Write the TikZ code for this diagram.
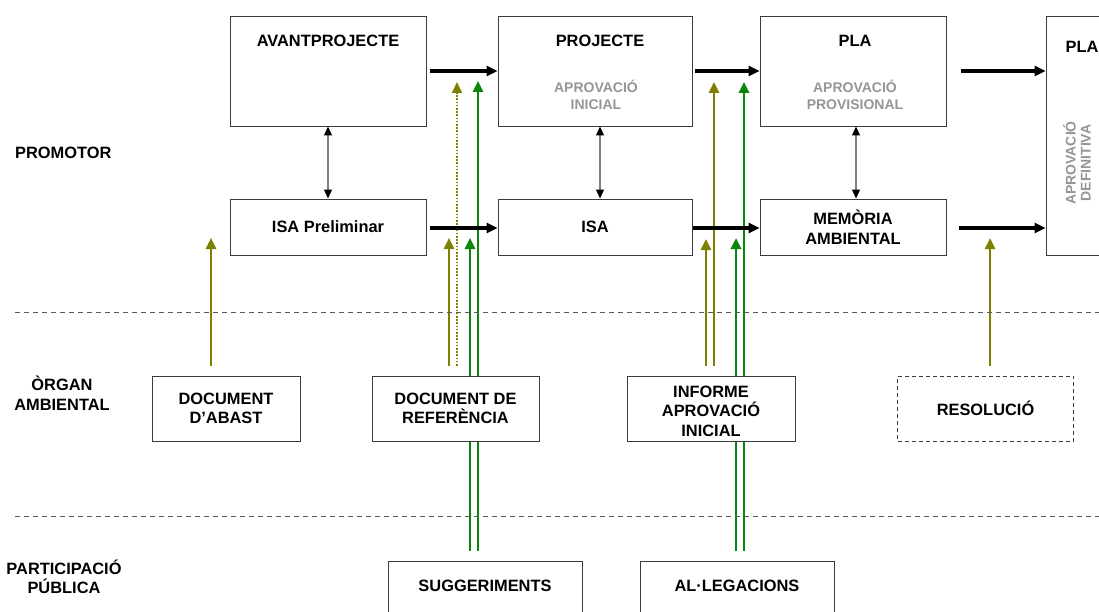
\documentclass[tikz,border=0pt]{standalone}
\usepackage{fontspec}
\setmainfont{Liberation Sans}
\usetikzlibrary{arrows.meta,calc}
\definecolor{olv}{RGB}{128,128,0}
\definecolor{grn}{RGB}{10,135,10}
\definecolor{gtx}{RGB}{150,150,150}
\definecolor{edge}{RGB}{60,60,60}
\pgfdeclarelayer{bg}
\pgfsetlayers{bg,main}
\begin{document}
\begin{tikzpicture}[x=1pt,y=-1pt,
  box/.style={draw=edge,line width=0.9pt,fill=white,rectangle,inner sep=0pt},
  txt/.style={font=\fontsize{16.4}{19.6}\selectfont\bfseries,align=center,inner sep=0pt},
  gtxt/.style={font=\fontsize{14}{17}\selectfont\bfseries,text=gtx,align=center,inner sep=0pt},
  bigarr/.style={line width=3.2pt,-{Triangle[length=11pt,width=10pt]}},
  dblarr/.style={draw=black!50,line width=1.1pt,{Triangle[length=9pt,width=8pt,fill=black,color=black]}-{Triangle[length=9pt,width=8pt,fill=black,color=black]}},
  olvarr/.style={draw=olv,line width=2.5pt,-{Triangle[length=11pt,width=10pt,color=olv,fill=olv]}},
  olvdot/.style={draw=olv,line width=1.8pt,dash pattern=on 1.6pt off 1.6pt,-{Triangle[length=11pt,width=10pt,color=olv,fill=olv]}},
  grnarr/.style={draw=grn,line width=2.5pt,-{Triangle[length=11pt,width=10pt,color=grn,fill=grn]}},
  sepline/.style={draw=black!65,line width=1pt,dash pattern=on 5pt off 4pt}]
\useasboundingbox (0,0) rectangle (1099,612);
\clip (0,0) rectangle (1099,612);

% separators
\coordinate (s1a) at (15,312); \coordinate (s1b) at (1099,312);
\coordinate (s2a) at (15,516); \coordinate (s2b) at (1099,516);
\draw[sepline] (s1a) -- (s1b);
\draw[sepline] (s2a) -- (s2b);

% row labels
\node[txt,anchor=west] (lprom) at (15,153) {PROMOTOR};
\node[txt] (lorg) at (62,393) {ÒRGAN\\AMBIENTAL};
\node[txt] (lpart) at (64,577) {PARTICIPACIÓ\\PÚBLICA};

% promotor boxes
\node[box,minimum width=196pt,minimum height=110pt] (avant) at (328,71) {};
\node[box,minimum width=194pt,minimum height=110pt] (proj) at (595,71) {};
\node[box,minimum width=186pt,minimum height=110pt] (pla) at (853,71) {};
\node[box,minimum width=70pt,minimum height=239pt] (final) at (1081,135.5) {};
\node[box,minimum width=196pt,minimum height=56pt,txt] (isap) at (328,227) {ISA Preliminar};
\node[box,minimum width=194pt,minimum height=56pt,txt] (isa) at (595,227) {ISA};
\node[box,minimum width=186pt,minimum height=56pt,txt] (mem) at (853,227) {MEMÒRIA\\AMBIENTAL};

\node[txt] (avantt) at (328,41) {AVANTPROJECTE};
\node[txt] (projt) at (600,41) {PROJECTE};
\node[gtxt] (projg) at (596,94.5) {APROVACIÓ\\INICIAL};
\node[txt] (plat) at (855,41) {PLA};
\node[gtxt] (plag) at (855,94.5) {APROVACIÓ\\PROVISIONAL};
\node[txt] (finalt) at (1082,47) {PLA};
\node[gtxt,rotate=90,font=\fontsize{14}{15}\selectfont\bfseries] (finalg) at (1077,163) {APROVACIÓ\\DEFINITIVA};

% organ ambiental boxes
\node[box,minimum width=148pt,minimum height=65pt,txt] (abast) at (226,408.5) {DOCUMENT\\D’ABAST};
\node[box,minimum width=167pt,minimum height=65pt,txt] (docref) at (455.5,408.5) {DOCUMENT DE\\REFERÈNCIA};
\node[box,minimum width=168pt,minimum height=65pt,txt] (informe) at (711,408.5) {};
\node[txt] (informet) at (711,411) {INFORME\\APROVACIÓ\\INICIAL};
\node[box,dashed,dash pattern=on 4pt off 3pt,minimum width=176pt,minimum height=65pt,txt] (resol) at (985.5,408.5) {RESOLUCIÓ};

% participacio boxes
\node[box,minimum width=194pt,minimum height=70pt] (sugg) at (485,596) {};
\node[box,minimum width=194pt,minimum height=70pt] (alleg) at (737,596) {};
\node[txt] (suggt) at (485,586) {SUGGERIMENTS};
\node[txt] (allegt) at (737,586) {AL·LEGACIONS};

% black horizontal arrows
\draw[bigarr] ([xshift=4pt]avant.east) -- (proj.west);
\draw[bigarr] ([xshift=3pt]proj.east) -- (pla.west);
\draw[bigarr] ([xshift=15pt]pla.east) -- (pla.east -| final.west);
\draw[bigarr] ([xshift=4pt,yshift=-1pt]isap.east) -- ([yshift=-1pt]isa.west);
\draw[bigarr] ([xshift=1pt,yshift=-1pt]isa.east) -- ([yshift=-1pt]mem.west);
\draw[bigarr] ([xshift=13pt,yshift=-1pt]mem.east) -- ([yshift=-1pt]mem.east -| final.west);

% vertical double arrows
\draw[dblarr] (avant.south) -- (isap.north);
\draw[dblarr] ([xshift=5pt]proj.south) -- ([xshift=5pt]isa.north);
\draw[dblarr] ([xshift=3pt]pla.south) -- ([xshift=3pt]mem.north);

% targets
\coordinate (t1) at (211,238);
\coordinate (t2) at (449,238);
\coordinate (t3) at (457,82);
\coordinate (t4) at (470,238);
\coordinate (t5) at (478,81);
\coordinate (t6) at (706,239);
\coordinate (t7) at (714,82);
\coordinate (t8) at (736,238);
\coordinate (t9) at (744,82);
\coordinate (t10) at (990,238);

\begin{pgfonlayer}{bg}
\draw[olvarr] ([xshift=-15pt,yshift=10pt]abast.north) -- (t1);
\draw[olvarr] ([xshift=-6.5pt,yshift=10pt]docref.north) -- (t2);
\draw[olvdot] ([xshift=1.5pt,yshift=10pt]docref.north) -- (t3);
\draw[grnarr] ([xshift=-15pt,yshift=10pt]sugg.north) -- (t4);
\draw[grnarr] ([xshift=-7pt,yshift=10pt]sugg.north) -- (t5);
\draw[olvarr] ([xshift=-5pt,yshift=10pt]informe.north) -- (t6);
\draw[olvarr] ([xshift=3pt,yshift=10pt]informe.north) -- (t7);
\draw[grnarr] ([xshift=-1pt,yshift=10pt]alleg.north) -- (t8);
\draw[grnarr] ([xshift=7pt,yshift=10pt]alleg.north) -- (t9);
\draw[olvarr] ([xshift=4.5pt,yshift=10pt]resol.north) -- (t10);
\end{pgfonlayer}
\end{tikzpicture}
\end{document}
